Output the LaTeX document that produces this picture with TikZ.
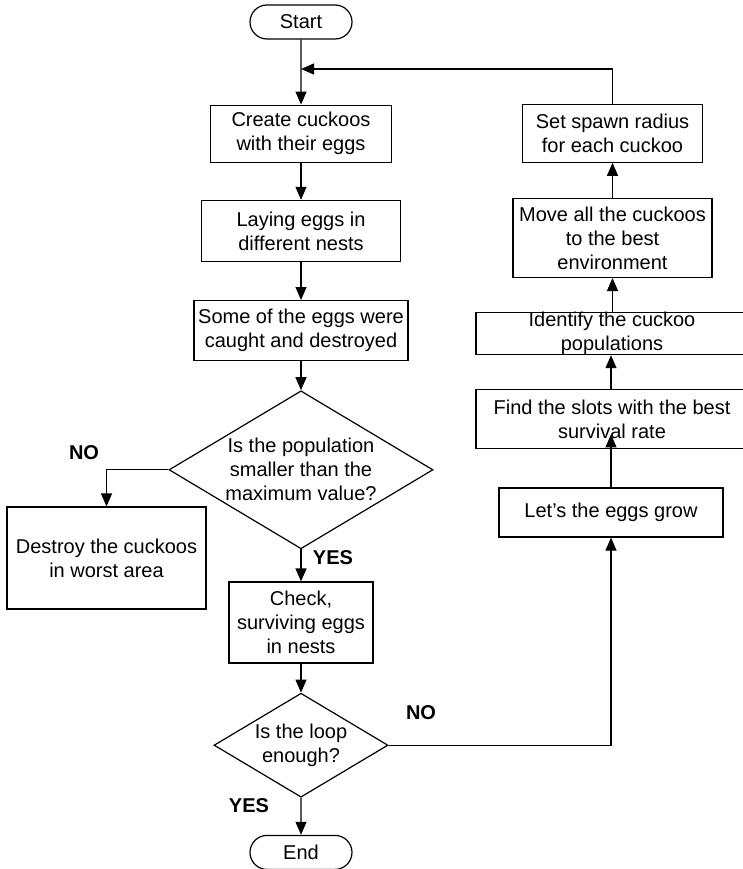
\documentclass[tikz,border=0pt]{standalone}
\usepackage{fontspec}
\setmainfont{Liberation Sans}
\usetikzlibrary{arrows.meta,positioning,shapes.geometric,shapes.misc}

\begin{document}
\begin{tikzpicture}[x=1pt,y=-1pt,>={Triangle[length=13pt,width=11pt]},
                    line width=1.2pt,
                    every node/.style={font=\fontsize{20}{24}\selectfont},
                    box/.style={draw,rectangle,align=center,inner sep=2pt},
                    term/.style={draw,rounded rectangle,minimum width=106pt,
                                 minimum height=34pt,inner sep=2pt},
                    decision/.style={draw,diamond,inner sep=0pt},
                    answer/.style={font=\fontsize{20}{24}\selectfont\bfseries}]

        \useasboundingbox (0,0) rectangle (743,869);
        \clip (0,0) rectangle (743,869);

        % main column
        \node[term] (start) at (301,22) {Start};
        \node[box,minimum width=181pt,minimum height=57pt] (create) [below=65pt of start] {Create cuckoos\\with their eggs};
        \node[box,minimum width=199pt,minimum height=61pt] (laying) [below=37pt of create] {Laying eggs in\\different nests};
        \node[box,minimum width=214pt,minimum height=60pt] (caught) [below=38pt of laying] {Some of the eggs were\\caught and destroyed};
        \node[decision,minimum width=264pt,minimum height=158pt] (popcheck) [below=29pt of caught] {};
        \node[align=center] (popq) at (popcheck) {Is the population\\smaller than the\\maximum value?};
        \node[box,minimum width=144pt,minimum height=81pt] (check) [below=32pt of popcheck] {Check,\\surviving eggs\\in nests};
        \node[decision,minimum width=174pt,minimum height=104pt] (loopcheck) [below=29pt of check] {};
        \node[align=center] (loopq) at (loopcheck) {Is the loop\\enough?};
        \node[term] (end) [below=37pt of loopcheck] {End};

        \node[box,minimum width=199pt,minimum height=102pt] (destroy) at (106.5,558) {Destroy the cuckoos\\in worst area};

        % loop column
        \node[box,minimum width=224pt,minimum height=49pt] (grow) at (611,512.5) {Let’s the eggs grow};
        \node[box,minimum width=284pt,minimum height=59pt] (find) [above=38pt of grow,xshift=7pt] {};
        \node[align=center] (findtxt) at ([xshift=-6pt]find.center) {Find the slots with the best\\survival rate};
        \node[box,minimum width=284pt,minimum height=42pt] (ident) [above=34pt of find] {};
        \node[align=center] (identtxt) at ([xshift=-6pt]ident.center) {Identify the cuckoo\\populations};
        \node[box,minimum width=199pt,minimum height=79pt] (move) [above=34pt of ident,xshift=-5.5pt] {Move all the cuckoos\\to the best\\environment};
        \node[box,minimum width=180pt,minimum height=58pt] (spawn) [above=35pt of move] {Set spawn radius\\for each cuckoo};

        \coordinate (merge) at (301,69);

        \node[answer] (no1)  at (84,453)  {NO};
        \node[answer] (yes1) at (333,558) {YES};
        \node[answer] (no2)  at (421,713) {NO};
        \node[answer] (yes2) at (249,806) {YES};

        \path[->] (start)     edge (create)
                  (create)    edge (laying)
                  (laying)    edge (caught)
                  (caught)    edge (popcheck)
                  (popcheck)  edge (check)
                  (check)     edge (loopcheck)
                  (loopcheck) edge (end)
                  (move)      edge (spawn);

        \draw[->] (popcheck) -| (destroy);
        \draw[->] (loopcheck) -| (grow);
        \draw[->,shorten >=-15pt] (grow) -- (grow |- find.south);
        \draw[->] (find.north -| grow) -- (ident.south -| grow);
        \draw[->] (ident.north -| move) -- (move);
        \draw[->] (spawn) |- (merge);
      \end{tikzpicture}
\end{document}
